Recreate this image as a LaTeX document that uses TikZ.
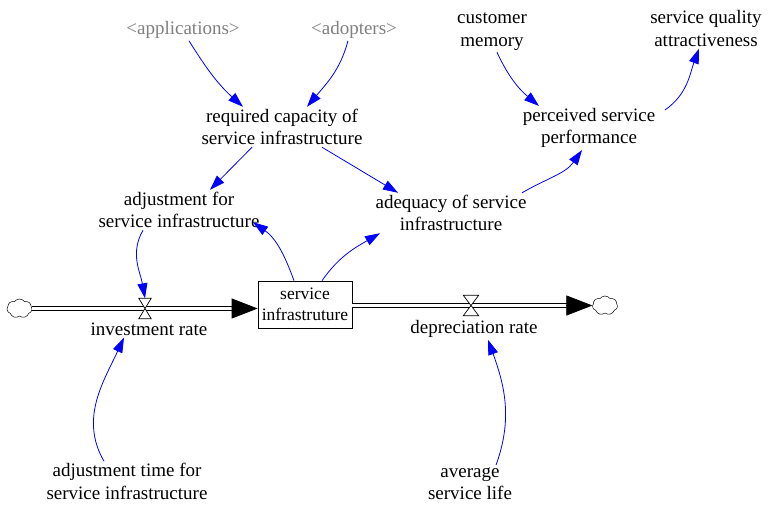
\documentclass[tikz,border=0pt]{standalone}
\usepackage{fontspec}
\setmainfont{Liberation Serif}
\usetikzlibrary{arrows.meta,shapes.symbols}
\definecolor{linkblue}{RGB}{0,0,255}
\definecolor{shadowgray}{RGB}{128,128,128}
\begin{document}
\begin{tikzpicture}[x=1pt,y=1pt,
  var/.style={align=center,font=\fontsize{19}{22.5}\selectfont,inner sep=2pt},
  shadowvar/.style={var,text=shadowgray},
  link/.style={draw=linkblue,line width=0.8pt,-{Triangle[length=15pt,width=10pt]}},
  pipe/.style={draw=black,double=white,double distance=3.2pt,line width=0.7pt},
  flowhead/.style={draw=black,line width=0.7pt,-{Triangle[length=26pt,width=20pt]}},
  cloudsrc/.style={cloud,cloud puffs=7,cloud puff arc=110,aspect=1.3,draw=black,line width=0.5pt,minimum width=25pt,minimum height=19pt,inner sep=0pt},
  valvebox/.style={minimum width=#1,minimum height=20pt,inner sep=0pt},
  stockbox/.style={draw=black,line width=0.7pt,minimum width=94pt,minimum height=47pt,inner sep=1pt,align=center,font=\fontsize{17.5}{21}\selectfont}
]
\useasboundingbox[fill=white] (0,0) rectangle (768,-504);

% variables
\node[shadowvar] (app) at (183,-30) {\textless applications\textgreater};
\node[shadowvar] (adopt) at (354,-30) {\textless adopters\textgreater};
\node[var] (cust) at (492,-31.5) {customer\\memory};
\node[var] (sqa) at (706,-28.5) {service quality\\attractiveness};
\node[var] (req) at (282,-127) {required capacity of\\service infrastructure};
\node[var] (perc) at (589,-128) {perceived service\\performance};
\node[var] (adj) at (179,-210) {adjustment for\\service infrastructure};
\node[var] (adeq) at (451,-213) {adequacy of service\\infrastructure};
\node[var] (inv) at (149,-329) {investment rate};
\node[var] (dep) at (474,-329) {depreciation rate};
\node[var] (adjt) at (127,-481.5) {adjustment time for\\service infrastructure};
\node[var] (avg) at (470,-483.5) {average\\service life};

% stock and clouds
\node[stockbox] (stock) at (305,-304.5) {service\\infrastruture};
\node[cloudsrc] (cL) at (19.5,-308.5) {};
\node[cloudsrc] (cR) at (605,-305.5) {};

% flows
\coordinate (inEnd) at (cL.east -| stock.west);
\draw[pipe,shorten >=24pt] (cL.east) -- (inEnd);
\draw[flowhead] ([xshift=-26pt]inEnd) -- (inEnd);
\coordinate (outStart) at (stock.east |- cR.west);
\draw[pipe,shorten >=24pt] (outStart) -- (cR.west);
\draw[flowhead] ([xshift=-26pt]cR.west) -- (cR.west);

% valves
\node[valvebox=12pt] (vInv) at (145,-308.5) {};
\draw[fill=white,line width=0.7pt] (vInv.north west) -- (vInv.north east) -- (vInv.south west) -- (vInv.south east) -- cycle;
\node[valvebox=15pt] (vDep) at (471,-305.5) {};
\draw[fill=white,line width=0.7pt] (vDep.north west) -- (vDep.north east) -- (vDep.south west) -- (vDep.south east) -- cycle;

% links
\draw[link] ([xshift=6pt]app.south) to[out=-58,in=138] ([xshift=-39pt]req.north);
\draw[link] ([xshift=-6pt]adopt.south) to[out=-105,in=50] ([xshift=25pt]req.north);
\draw[link] ([xshift=5pt]cust.south) to[out=-65,in=140] ([xshift=-50pt]perc.north);
\draw[link] ([xshift=76pt,yshift=-4pt]perc.north) to[out=35,in=-110] ([xshift=-7pt]sqa.south);
\draw[link] ([xshift=-30pt]req.south) -- ([xshift=31pt]adj.north);
\draw[link] ([xshift=40pt]req.south) -- ([xshift=-53pt]adeq.north);
\draw[link] ([xshift=71pt]adeq.north) to[out=30,in=-125] ([xshift=-7pt]perc.south);
\draw[link] ([xshift=-11pt]stock.north) to[out=110,in=-35] ([xshift=74pt,yshift=8pt]adj.south);
\draw[link] ([xshift=17pt]stock.north) to[out=55,in=-150] ([xshift=-71pt]adeq.south);
\draw[link] ([xshift=-36pt]adj.south) to[out=-120,in=100] (vInv.north);
\draw[link] ([xshift=-23pt]adjt.north) to[out=120,in=-115] ([xshift=-25pt]inv.south);
\draw[link] ([xshift=26pt]avg.north) to[out=70,in=-70] ([xshift=14pt]dep.south);
\end{tikzpicture}
\end{document}
